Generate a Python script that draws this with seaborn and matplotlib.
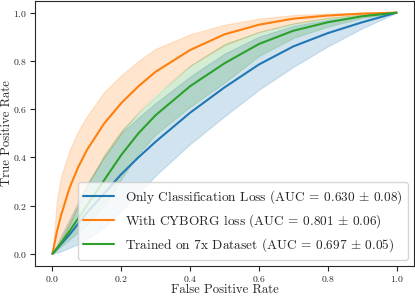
import numpy as np
import seaborn as sns
import matplotlib
matplotlib.use("Agg")
import matplotlib.pyplot as plt

# false positive rate grid shared by all curves
fpr = [0, 0.0125, 0.025, 0.05, 0.075, 0.1, 0.15, 0.2, 0.25, 0.3, 0.4, 0.5, 0.6, 0.7, 0.8, 0.9, 1.0]

# Only Classification Loss
cls_mean = [0, 0.02, 0.04, 0.08, 0.125, 0.17, 0.25, 0.33, 0.40, 0.465, 0.585, 0.69, 0.785, 0.86, 0.915, 0.96, 1.0]
cls_low = [0, 0.005, 0.01, 0.025, 0.04, 0.06, 0.11, 0.18, 0.25, 0.325, 0.455, 0.57, 0.68, 0.775, 0.86, 0.935, 1.0]
cls_high = [0, 0.037, 0.075, 0.145, 0.215, 0.29, 0.40, 0.50, 0.565, 0.625, 0.735, 0.83, 0.90, 0.945, 0.97, 0.987, 1.0]

# With CYBORG loss
cyb_mean = [0, 0.09, 0.16, 0.275, 0.36, 0.43, 0.54, 0.625, 0.695, 0.755, 0.845, 0.91, 0.95, 0.975, 0.988, 0.996, 1.0]
cyb_low = [0, 0.02, 0.05, 0.12, 0.20, 0.28, 0.40, 0.50, 0.59, 0.665, 0.78, 0.865, 0.92, 0.955, 0.978, 0.992, 1.0]
cyb_high = [0, 0.22, 0.32, 0.43, 0.51, 0.57, 0.67, 0.74, 0.80, 0.85, 0.91, 0.95, 0.975, 0.99, 0.996, 0.999, 1.0]

# Trained on 7x Dataset
big_mean = [0, 0.022, 0.045, 0.095, 0.147, 0.20, 0.305, 0.41, 0.50, 0.575, 0.695, 0.79, 0.87, 0.925, 0.96, 0.985, 1.0]
big_low = [0, 0.015, 0.03, 0.06, 0.09, 0.12, 0.20, 0.31, 0.415, 0.495, 0.61, 0.71, 0.82, 0.895, 0.942, 0.978, 1.0]
big_high = [0, 0.03, 0.06, 0.13, 0.20, 0.28, 0.41, 0.51, 0.585, 0.655, 0.78, 0.87, 0.92, 0.955, 0.978, 0.992, 1.0]

labels = [
    r"Only Classification Loss (AUC = 0.630 $\pm$ 0.08)",
    r"With CYBORG loss (AUC = 0.801 $\pm$ 0.06)",
    r"Trained on 7x Dataset (AUC = 0.697 $\pm$ 0.05)",
]

sns.set_style("ticks")
plt.rcParams["font.family"] = ["serif"]
plt.rcParams["font.serif"] = ["cmr10"]
plt.rcParams["mathtext.fontset"] = "cm"
plt.rcParams["axes.formatter.use_mathtext"] = True
plt.rcParams["axes.unicode_minus"] = False

colors = sns.color_palette("tab10")

fig, ax = plt.subplots(figsize=(4.15, 2.97), dpi=100)
fig.subplots_adjust(left=0.085, right=0.997, top=0.998, bottom=0.105)

series = [(cls_mean, cls_low, cls_high), (cyb_mean, cyb_low, cyb_high), (big_mean, big_low, big_high)]
for i, (m, lo, hi) in enumerate(series):
    sns.lineplot(x=fpr, y=m, ax=ax, color=colors[i], lw=1.5, label=labels[i])
    ax.fill_between(fpr, lo, hi, color=colors[i], alpha=0.2, lw=0.8)

ax.set_xlim(-0.05, 1.05)
ax.set_ylim(-0.05, 1.05)
ax.set_xticks([0, 0.2, 0.4, 0.6, 0.8, 1.0])
ax.set_yticks([0, 0.2, 0.4, 0.6, 0.8, 1.0])
ax.tick_params(labelsize=7, pad=2.5)
ax.set_xlabel("False Positive Rate", fontsize=9.2, labelpad=0)
ax.set_ylabel("True Positive Rate", fontsize=9.2, labelpad=0)
ax.legend(loc="lower right", fontsize=9.6, handlelength=2.3, labelspacing=0.5,
          borderaxespad=0.45)

fig.savefig("out.png", dpi=100)
